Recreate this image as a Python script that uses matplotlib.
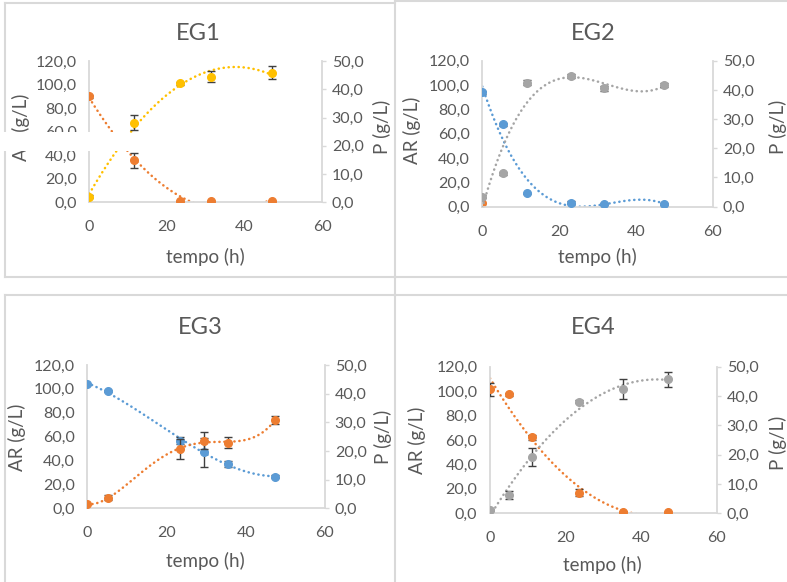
import numpy as np
import matplotlib
matplotlib.use('Agg')
import matplotlib.pyplot as plt
from matplotlib.ticker import FuncFormatter, MultipleLocator
from matplotlib.patches import Rectangle
from matplotlib.lines import Line2D

plt.rcParams['font.family'] = ['Lato', 'DejaVu Sans']

W, H = 787, 582
ORANGE = '#ED7D31'
BLUE = '#5B9BD5'
GRAY = '#A5A5A5'
YELLOW = '#FFC000'
TXT = '#595959'
SPINE = '#D9D9D9'

# ---- data ----
titles = ['EG1', 'EG2', 'EG3', 'EG4']

t1 = [0, 11.5, 23.5, 31.5, 47]
ar1 = [90, 35.5, 1, 1, 1]
ar1_err = [1, 6, 0, 0, 0]
p1 = [2, 28.2, 42.1, 44.4, 45.9]
p1_err = [0.5, 2.7, 0.5, 2, 2.4]

t2 = [0, 5.5, 11.7, 23, 31.7, 47.3]
ar2 = [94, 67.7, 11, 3.3, 2.2, 2.2]
ar2_err = [1, 1, 0.5, 1, 0.5, 0.5]
p2 = [3.4, 11.4, 42.5, 44.8, 40.5, 41.7]
p2_err = [0.5, 0.5, 0.8, 0.8, 1, 0.8]
t2_extra = [0]
ar2_extra = [3]

t3 = [0, 5.3, 23.4, 29.5, 35.6, 47.4]
ar3 = [104, 98.2, 56.6, 46.9, 37.1, 26.5]
ar3_err = [0.5, 1, 3, 12, 2.5, 1]
p3 = [1.4, 3.7, 20.6, 23.6, 22.9, 30.8]
p3_err = [0, 0.8, 3.5, 3, 1.9, 1.3]

t4 = [0, 5.1, 11, 23.6, 35.1, 47]
ar4 = [101.5, 97.4, 62.2, 16.9, 0.8, 0.8]
ar4_err = [5.5, 1, 2, 3, 0, 0]
p4 = [1.1, 6.2, 19.3, 38, 42.3, 45.7]
p4_err = [0.3, 1.4, 3, 0.5, 3.4, 2.6]

# (time, AR, AR err, AR colour, trend degree, P, P err, P colour, trend degree)
series = [
    (t1, ar1, ar1_err, ORANGE, 2, p1, p1_err, YELLOW, 2),
    (t2, ar2, ar2_err, BLUE, 3, p2, p2_err, GRAY, 3),
    (t3, ar3, ar3_err, BLUE, 3, p3, p3_err, ORANGE, 4),
    (t4, ar4, ar4_err, ORANGE, 2, p4, p4_err, GRAY, 2),
]

# ---- layout in pixels (left, right, top, bottom of plot area) ----
boxes = [(89.3, 322, 61, 202.3), (482.3, 713, 60.7, 206.7),
         (87.3, 325, 365, 508.3), (490, 717, 366.7, 513.3)]
title_xy = [(198, 33), (593, 33), (200, 327), (593, 327)]
xlab_xy = [(205, 257), (597, 257), (205, 561), (602, 565)]
ylabL_xy = [(21, 127), (412, 130), (17, 437), (417, 440)]
ylabR_xy = [(382, 127), (778, 127), (383, 437), (778, 443)]


def fmt(v, pos):
    return f'{v:.1f}'.replace('.', ',')


def trend(ax, x, y, deg, color):
    c = np.polyfit(x, y, deg)
    xs = np.linspace(min(x), max(x), 300)
    ax.plot(xs, np.polyval(c, xs), color=color, lw=1.8,
            linestyle=(0, (0.1, 1.9)), dash_capstyle='round', zorder=2)


def points(ax, x, y, err, color):
    ax.errorbar(x, y, yerr=err, fmt='none', ecolor='#404040',
                elinewidth=1.0, capsize=3, capthick=1.0, zorder=3)
    ax.plot(x, y, 'o', color=color, ms=5.5, zorder=4)


fig = plt.figure(figsize=(W / 100, H / 100), dpi=100)


def fx(px):
    return px / W


def fy(py):
    return 1 - py / H


for i, (t, ar, are, car, dar, p, pe, cp, dp) in enumerate(series):
    l, r, tp, b = boxes[i]
    ax = fig.add_axes([fx(l), fy(b), (r - l) / W, (b - tp) / H])
    ax2 = ax.twinx()

    ax.set_xlim(0, 60)
    ax.set_ylim(0, 120)
    ax2.set_ylim(0, 50)
    ax.xaxis.set_major_locator(MultipleLocator(20))
    ax.yaxis.set_major_locator(MultipleLocator(20))
    ax2.yaxis.set_major_locator(MultipleLocator(10))
    ax.yaxis.set_major_formatter(FuncFormatter(fmt))
    ax2.yaxis.set_major_formatter(FuncFormatter(fmt))

    for s in ['top', 'right']:
        ax.spines[s].set_visible(False)
    for s in ['top', 'left', 'bottom']:
        ax2.spines[s].set_visible(False)
    for sp in [ax.spines['left'], ax.spines['bottom'], ax2.spines['right']]:
        sp.set_color(SPINE)
        sp.set_linewidth(1.3)

    ax.tick_params(axis='y', length=0, pad=9, labelsize=11.5, labelcolor=TXT)
    ax.tick_params(axis='x', length=0, pad=13, labelsize=11.5, labelcolor=TXT)
    ax2.tick_params(axis='y', length=3, width=1, color=SPINE, pad=4,
                    labelsize=11.5, labelcolor=TXT)

    trend(ax, t, ar, dar, car)
    trend(ax2, t, p, dp, cp)
    points(ax, t, ar, are, car)
    points(ax2, t, p, pe, cp)
    if i == 1:
        ax.plot(t2_extra, ar2_extra, 'o', color=ORANGE, ms=5.5, zorder=1)

    for a in (ax, ax2):
        a.patch.set_visible(False)

    fig.text(fx(title_xy[i][0]), fy(title_xy[i][1]), titles[i], fontsize=17,
             color=TXT, ha='center', va='center')
    fig.text(fx(xlab_xy[i][0]), fy(xlab_xy[i][1]), 'tempo (h)', fontsize=13.5,
             color=TXT, ha='center', va='center')
    fig.text(fx(ylabL_xy[i][0]), fy(ylabL_xy[i][1]), 'AR (g/L)', fontsize=13.5,
             color=TXT, ha='center', va='center', rotation=90)
    fig.text(fx(ylabR_xy[i][0]), fy(ylabR_xy[i][1]), 'P (g/L)', fontsize=13.5,
             color=TXT, ha='center', va='center', rotation=90)

# panel borders
borders = [
    ((5, 3), (395, 3)), ((5, 3), (5, 277)), ((5, 277), (395, 277)),
    ((395, 1), (787, 1)), ((395, 277), (787, 277)),
    ((395, 0), (395, 582)),
    ((5, 295), (395, 295)), ((5, 295), (5, 582)), ((395, 295), (787, 295)),
]
for (x0, y0), (x1, y1) in borders:
    fig.add_artist(Line2D([fx(x0), fx(x1)], [fy(y0), fy(y1)],
                          color=SPINE, lw=1.5, zorder=0))

# white patch covering part of the first panel
fig.add_artist(Rectangle((fx(0), fy(151)), fx(130), (151 - 132) / H,
                         transform=fig.transFigure, facecolor='white',
                         edgecolor='none', zorder=100))

fig.savefig('out.png', dpi=100)
